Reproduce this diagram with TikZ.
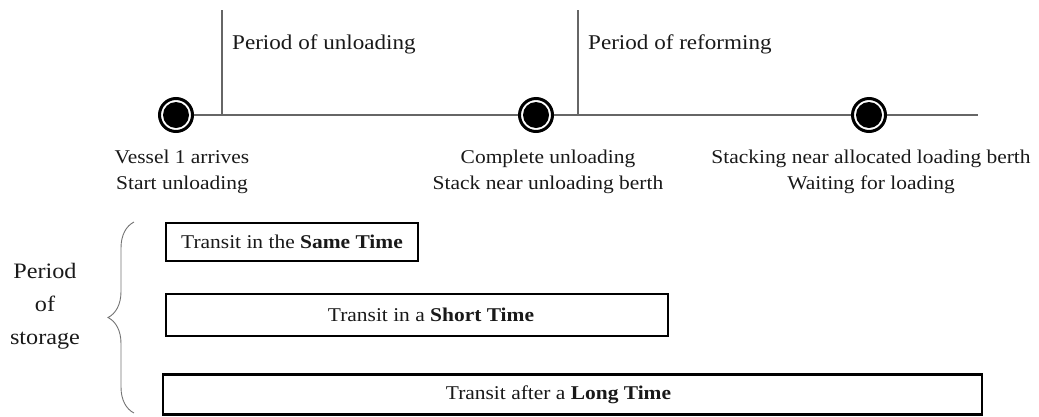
\documentclass[tikz,border=0pt]{standalone}
\usepackage{fontspec}
\setmainfont{Liberation Serif}[FakeStretch=1.1]
\usetikzlibrary{decorations.pathreplacing}
\begin{document}
\begin{tikzpicture}[x=1pt,y=-1pt,
  tline/.style={draw=black!60, line width=1.4pt},
  event/.style={circle, draw=black, line width=3pt, fill=white, inner sep=0pt, minimum size=33pt,
    path picture={\fill[black] (path picture bounding box.center) circle (13pt);}},
  toplabel/.style={font=\fontsize{21}{25}\selectfont, text=black!90, anchor=west, inner sep=0pt},
  evlabel/.style={font=\fontsize{19.5}{26}\selectfont, text=black!90, align=center, inner sep=0pt},
  storebox/.style={draw=black, line width=2.8pt, inner sep=0pt, font=\fontsize{19.5}{24}\selectfont, text=black!90},
  bracestyle/.style={draw=black!55, line width=0.9pt, decorate, decoration={brace, amplitude=26pt}}
]
\useasboundingbox (0,0) rectangle (1039,416);
% timeline events
\node[event] (c1) at (176,115) {};
\node[event] (c2) at (536,115) {};
\node[event] (c3) at (869,115) {};
\coordinate (tend) at (978,115);
\coordinate (v1top) at (222,10);
\coordinate (v1bot) at (222,115);
\coordinate (v2top) at (578,10);
\coordinate (v2bot) at (578,115);
\draw[tline] (c1.east) -- (c2.west);
\draw[tline] (c2.east) -- (c3.west);
\draw[tline] (c3.east) -- (tend);
\draw[tline] (v1top) -- (v1bot);
\draw[tline] (v2top) -- (v2bot);
% period labels
\node[toplabel] (pu) at (232,44) {Period of unloading};
\node[toplabel] (pr) at (588,44) {Period of reforming};
% event labels
\node[evlabel] (l1) at (182,172) {Vessel 1 arrives\\Start unloading};
\node[evlabel] (l2) at (548,172) {Complete unloading\\Stack near unloading berth};
\node[evlabel] (l3) at (871,172) {Stacking near allocated loading berth\\Waiting for loading};
% storage boxes
\node[storebox, minimum width=252pt, minimum height=38pt] (b1) at (292,242) {Transit in the \textbf{Same Time}};
\node[storebox, minimum width=502pt, minimum height=42pt] (b2) at (417,315) {\hspace*{28pt}Transit in a \textbf{Short Time}};
\node[storebox, minimum width=819pt, minimum height=40pt] (b3) at (572.5,394.5) {Transit after a \textbf{Long Time}\hspace*{28pt}};
% brace and label
\coordinate (bbot) at (134,413);
\coordinate (btop) at (134,222);
\draw[bracestyle] (bbot) -- (btop);
\node[evlabel, font=\fontsize{22}{33}\selectfont] (ps) at (45,306) {Period\\of\\storage};
\end{tikzpicture}
\end{document}
